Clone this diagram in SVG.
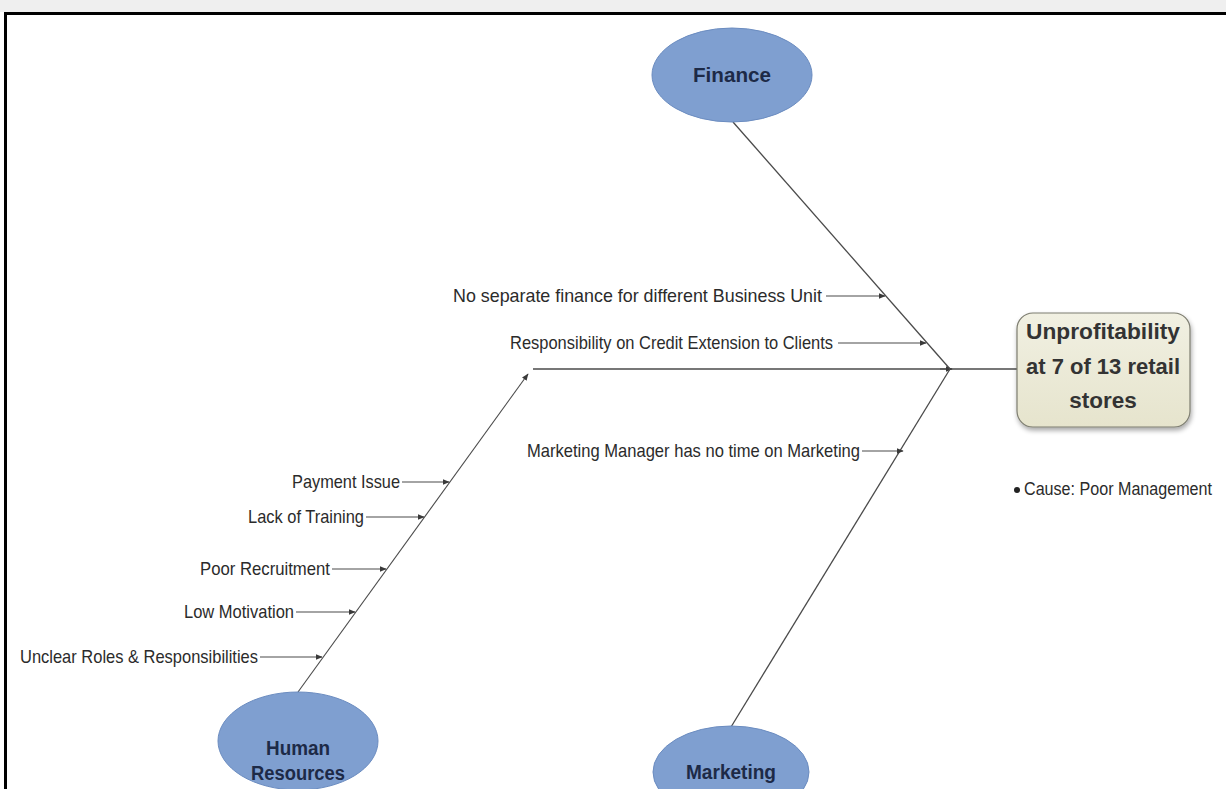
<svg xmlns="http://www.w3.org/2000/svg" width="1226" height="789" viewBox="0 0 1226 789">
  <style>
    .lbl { font-family: "Liberation Sans", Arial, sans-serif; font-size: 18.5px; fill: #2b2b2b; }
    .note { font-size: 17.5px; }
    .cat { font-family: "Liberation Sans", Arial, sans-serif; font-size: 20px; font-weight: bold; fill: #1d2a47; text-anchor: middle; }
    .head { font-family: "Liberation Sans", Arial, sans-serif; font-size: 22.5px; font-weight: bold; fill: #333; text-anchor: middle; }
    .oval { fill: #7f9fd0; stroke: #6b8cc0; stroke-width: 1; }
    .bone { stroke: #4a4a4a; stroke-width: 1.3; fill: none; }
    .twig { stroke: #4a4a4a; stroke-width: 1.1; fill: none; marker-end: url(#tip); }
  </style>
  <defs>
    <marker id="tip" viewBox="0 0 10 10" refX="9" refY="5" markerWidth="7" markerHeight="7" markerUnits="userSpaceOnUse" orient="auto">
      <path d="M0,1 L10,5 L0,9 Z" fill="#3a3a3a"/>
    </marker>
    <linearGradient id="boxFill" x1="0" y1="0" x2="0" y2="1">
      <stop offset="0" stop-color="#f1f0e2"/>
      <stop offset="1" stop-color="#e6e4cd"/>
    </linearGradient>
    <filter id="shadow" x="-10%" y="-10%" width="125%" height="130%">
      <feGaussianBlur in="SourceAlpha" stdDeviation="2.5"/>
      <feOffset dx="1" dy="3" result="b"/>
      <feComponentTransfer><feFuncA type="linear" slope="0.35"/></feComponentTransfer>
      <feMerge><feMergeNode/><feMergeNode in="SourceGraphic"/></feMerge>
    </filter>
  </defs>

  <!-- page background and frame -->
  <rect x="0" y="0" width="1226" height="789" fill="#ffffff"/>
  <rect x="0" y="0" width="1226" height="12" fill="#efefef"/>
  <line x1="4" y1="13.5" x2="1226" y2="13.5" stroke="#000" stroke-width="3"/>
  <line x1="5.5" y1="12" x2="5.5" y2="789" stroke="#000" stroke-width="3"/>

  <!-- connectors: spine, bones and cause arrows -->
  <g id="connectors">
    <line class="bone" x1="533" y1="369" x2="1017" y2="369"/>
    <line class="twig" x1="940" y1="369" x2="952" y2="369"/>
    <line class="bone" x1="733" y1="122" x2="950" y2="369"/>
    <line class="bone" x1="731" y1="727" x2="950" y2="369"/>
    <line class="twig" x1="298" y1="692" x2="528" y2="374"/>
    <line class="twig" x1="826" y1="296" x2="885" y2="296"/>
    <line class="twig" x1="838" y1="343" x2="926" y2="343"/>
    <line class="twig" x1="862" y1="451" x2="903" y2="451"/>
    <line class="twig" x1="402" y1="482" x2="449" y2="482"/>
    <line class="twig" x1="366" y1="517" x2="424" y2="517"/>
    <line class="twig" x1="332" y1="569" x2="386" y2="569"/>
    <line class="twig" x1="296" y1="612" x2="355" y2="612"/>
    <line class="twig" x1="260" y1="657" x2="322" y2="657"/>
  </g>

  <!-- cause labels -->
  <g id="causes">
    <text class="lbl" x="453" y="302" textLength="369" lengthAdjust="spacingAndGlyphs">No separate finance for different Business Unit</text>
    <text class="lbl" x="510" y="349" textLength="323" lengthAdjust="spacingAndGlyphs">Responsibility on Credit Extension to Clients</text>
    <text class="lbl" x="527" y="457" textLength="333" lengthAdjust="spacingAndGlyphs">Marketing Manager has no time on Marketing</text>
    <text class="lbl" x="292" y="488" textLength="108" lengthAdjust="spacingAndGlyphs">Payment Issue</text>
    <text class="lbl" x="248" y="523" textLength="116" lengthAdjust="spacingAndGlyphs">Lack of Training</text>
    <text class="lbl" x="200" y="575" textLength="130" lengthAdjust="spacingAndGlyphs">Poor Recruitment</text>
    <text class="lbl" x="184" y="618" textLength="110" lengthAdjust="spacingAndGlyphs">Low Motivation</text>
    <text class="lbl" x="20" y="663" textLength="238" lengthAdjust="spacingAndGlyphs">Unclear Roles &amp; Responsibilities</text>
  </g>

  <g id="finance">
    <ellipse class="oval" cx="732" cy="75" rx="80" ry="47"/>
    <text class="cat" x="732" y="82" textLength="78" lengthAdjust="spacingAndGlyphs">Finance</text>
  </g>

  <g id="marketing">
    <ellipse class="oval" cx="731" cy="772" rx="78" ry="46"/>
    <text class="cat" x="731" y="779" textLength="90" lengthAdjust="spacingAndGlyphs">Marketing</text>
  </g>

  <g id="human-resources">
    <ellipse class="oval" cx="298" cy="741" rx="80" ry="49"/>
    <text class="cat" x="298" y="755" textLength="64" lengthAdjust="spacingAndGlyphs">Human</text>
    <text class="cat" x="298" y="780" textLength="94" lengthAdjust="spacingAndGlyphs">Resources</text>
  </g>

  <g id="effect">
    <rect x="1017" y="313" width="173" height="114" rx="16" fill="url(#boxFill)" stroke="#7d7d70" stroke-width="1.2" filter="url(#shadow)"/>
    <text class="head" x="1103" y="339" textLength="154" lengthAdjust="spacingAndGlyphs">Unprofitability</text>
    <text class="head" x="1103" y="374" textLength="154" lengthAdjust="spacingAndGlyphs">at 7 of 13 retail</text>
    <text class="head" x="1103" y="408">stores</text>
  </g>

  <g id="note">
    <circle cx="1017" cy="490" r="3" fill="#222"/>
    <text class="lbl note" x="1024" y="495" textLength="188" lengthAdjust="spacingAndGlyphs">Cause: Poor Management</text>
  </g>
</svg>
